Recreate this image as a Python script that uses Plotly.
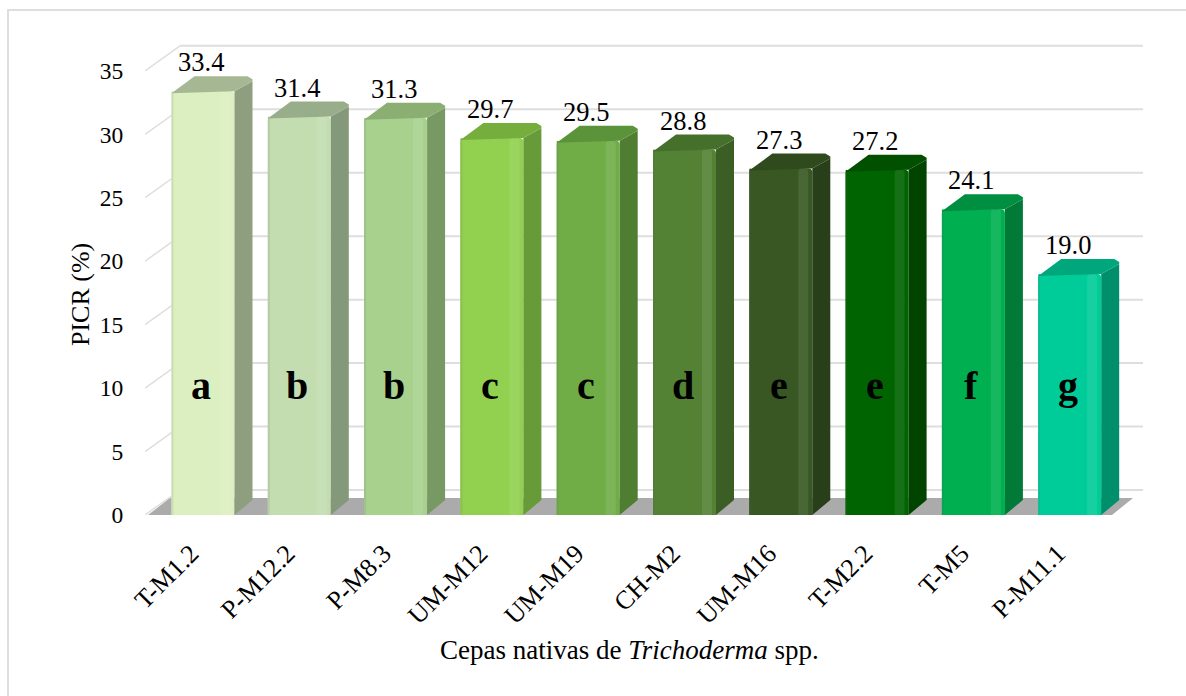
import plotly.graph_objects as go

CATEGORIES = ["T-M1.2", "P-M12.2", "P-M8.3", "UM-M12", "UM-M19", "CH-M2", "UM-M16", "T-M2.2", "T-M5", "P-M11.1"]
VALUES = [33.4, 31.4, 31.3, 29.7, 29.5, 28.8, 27.3, 27.2, 24.1, 19.0]
VALUE_LABELS = ["33.4", "31.4", "31.3", "29.7", "29.5", "28.8", "27.3", "27.2", "24.1", "19.0"]
LETTERS = ["a", "b", "b", "c", "c", "d", "e", "e", "f", "g"]
Y_TICKS = [0, 5, 10, 15, 20, 25, 30, 35]
FRONT = ["#DCEFC0", "#C3DDB0", "#A9D18E", "#92D050", "#70AD47", "#548235", "#385723", "#006400", "#00B050", "#00CC99"]
SIDE = ["#8E9F7F", "#84997A", "#779A65", "#679A39", "#4F7D32", "#3B5E25", "#283F19", "#004400", "#007A36", "#008F6B"]
TOP = ["#A6B893", "#98AD8A", "#8BAE72", "#76AE3E", "#5B933A", "#44702B", "#2F4A1D", "#005000", "#008F40", "#00A67C"]

W, H = 1186, 696
L, R, T, B = 145, 1145, 40, 515
PX_X = 96.3            # pixels per category step
PX_Y = 12.69           # pixels per y unit
X0 = 203               # pixel centre of first bar
BAR_W = 63 / PX_X
DX, DY = 18 / PX_X, 15 / PX_Y      # bar depth
WX, WY = 35 / PX_X, 25 / PX_Y      # wall depth
xr = [(L - X0) / PX_X, (R - X0) / PX_X]
yr = [0, (B - T) / PX_Y]
FONT = "Liberation Serif"


def mix(c, t, to=(255, 255, 255)):
    r, g, b = int(c[1:3], 16), int(c[3:5], 16), int(c[5:7], 16)
    return "rgb(%d,%d,%d)" % (r + (to[0] - r) * t, g + (to[1] - g) * t, b + (to[2] - b) * t)


def xp(px):
    return (px - L) / (R - L)


def yp(px):
    return (B - px) / (B - T)


shapes = [
    dict(type="line", xref="paper", yref="paper", x0=xp(8), x1=xp(8), y0=yp(696), y1=yp(10),
         line=dict(color="#DEDEDE", width=2), layer="below"),
    dict(type="line", xref="paper", yref="paper", x0=xp(7), x1=xp(1186), y0=yp(10), y1=yp(10),
         line=dict(color="#DEDEDE", width=2), layer="below"),
]
# wall gridlines with their depth stubs, behind every bar
for v in Y_TICKS:
    shapes.append(dict(type="line", xref="x", yref="y", x0=xr[0], x1=xr[0] + WX, y0=v, y1=v + WY,
                       line=dict(color="#DEDEDE", width=1.5), layer="below"))
    shapes.append(dict(type="line", xref="x", yref="y", x0=xr[0] + WX, x1=xr[1] - 2 / PX_X, y0=v + WY, y1=v + WY,
                       line=dict(color="#DEDEDE", width=2), layer="below"))
# floor
shapes.append(dict(type="path", xref="x", yref="y", layer="below", fillcolor="#ABABAB", line_width=0,
                   path="M %f,0 L %f,%f L %f,%f L %f,0 Z" % (
                       xr[0] + 3 / PX_X, xr[0] + 25 / PX_X, 17 / PX_Y,
                       xr[1] - 12 / PX_X, 17 / PX_Y, xr[1] - 33 / PX_X)))

fig = go.Figure()

# side and top faces
px, py = 1 / PX_X, 1 / PX_Y
for i, v in enumerate(VALUES):
    x1 = i + BAR_W / 2
    x0 = i - BAR_W / 2
    fig.add_trace(go.Scatter(
        x=[x1, x1 + DX, x1 + DX, x1], y=[0, DY, v + DY - 5 * py, v],
        fill="toself", fillcolor=SIDE[i], mode="none", hoverinfo="skip"))
    fig.add_trace(go.Scatter(
        x=[x0, x0 + 5 * px + DX, x1 + DX - 5 * px, x1 + DX, x1 + DX, x1],
        y=[v - 2 * py, v + DY, v + DY, v + DY - 3 * py, v + DY - 5 * py, v],
        fill="toself", fillcolor=TOP[i], mode="none", hoverinfo="skip"))

# front faces
fig.add_trace(go.Bar(x=list(range(10)), y=VALUES, width=BAR_W, marker=dict(color=FRONT, line_width=0), hoverinfo="skip"))
# soft highlight down the right edge and shade on the left edge
fig.add_trace(go.Bar(x=list(range(10)), y=VALUES, width=10 * px, offset=BAR_W / 2 - 14 * px,
                     marker=dict(color=[mix(c, 0.09) for c in FRONT], line_width=0), hoverinfo="skip"))
fig.add_trace(go.Bar(x=list(range(10)), y=VALUES, width=2 * px, offset=-BAR_W / 2,
                     marker=dict(color=[mix(c, 0.12, (90, 90, 90)) for c in FRONT], line_width=0), hoverinfo="skip"))

anns = []
for i, v in enumerate(VALUES):
    anns.append(dict(x=i, y=v, text=VALUE_LABELS[i], showarrow=False, xshift=-2, yshift=29,
                     xanchor="center", yanchor="middle", font=dict(family=FONT, size=26.5, color="#000")))
    anns.append(dict(x=i, y=10.2, text="<b>%s</b>" % LETTERS[i], showarrow=False, xshift=-2,
                     xanchor="center", yanchor="middle", font=dict(family=FONT, size=40, color="#000")))
anns.append(dict(xref="paper", yref="paper", x=xp(80), y=yp(295), text="PICR (%)", textangle=-90,
                 xanchor="center", yanchor="middle", showarrow=False, font=dict(family=FONT, size=26, color="#000")))
anns.append(dict(xref="paper", yref="paper", x=xp(629), y=yp(650),
                 text="Cepas nativas de <i>Trichoderma</i> spp.", showarrow=False,
                 xanchor="center", yanchor="middle", font=dict(family=FONT, size=27, color="#000")))

fig.update_layout(
    width=W, height=H, margin=dict(l=L, r=W - R, t=T, b=H - B, autoexpand=False),
    paper_bgcolor="white", plot_bgcolor="white", showlegend=False,
    barmode="overlay", barcornerradius=4, annotations=anns, shapes=shapes,
    xaxis=dict(range=xr, tickmode="array", tickvals=list(range(10)), ticktext=CATEGORIES, tickangle=-45,
               showgrid=False, zeroline=False, showline=False, ticks="", ticklen=0,
               ticklabelstandoff=17, ticklabelshift=-12,
               tickfont=dict(family=FONT, size=26, color="#000")),
    yaxis=dict(range=yr, tickmode="array", tickvals=Y_TICKS, showgrid=False, zeroline=False, showline=False,
               ticks="outside", ticklen=16, tickcolor="rgba(0,0,0,0)",
               tickfont=dict(family=FONT, size=23.5, color="#000")),
)

fig.write_html("out.html", post_script="document.body.style.margin='0';", config={"displayModeBar": False})
